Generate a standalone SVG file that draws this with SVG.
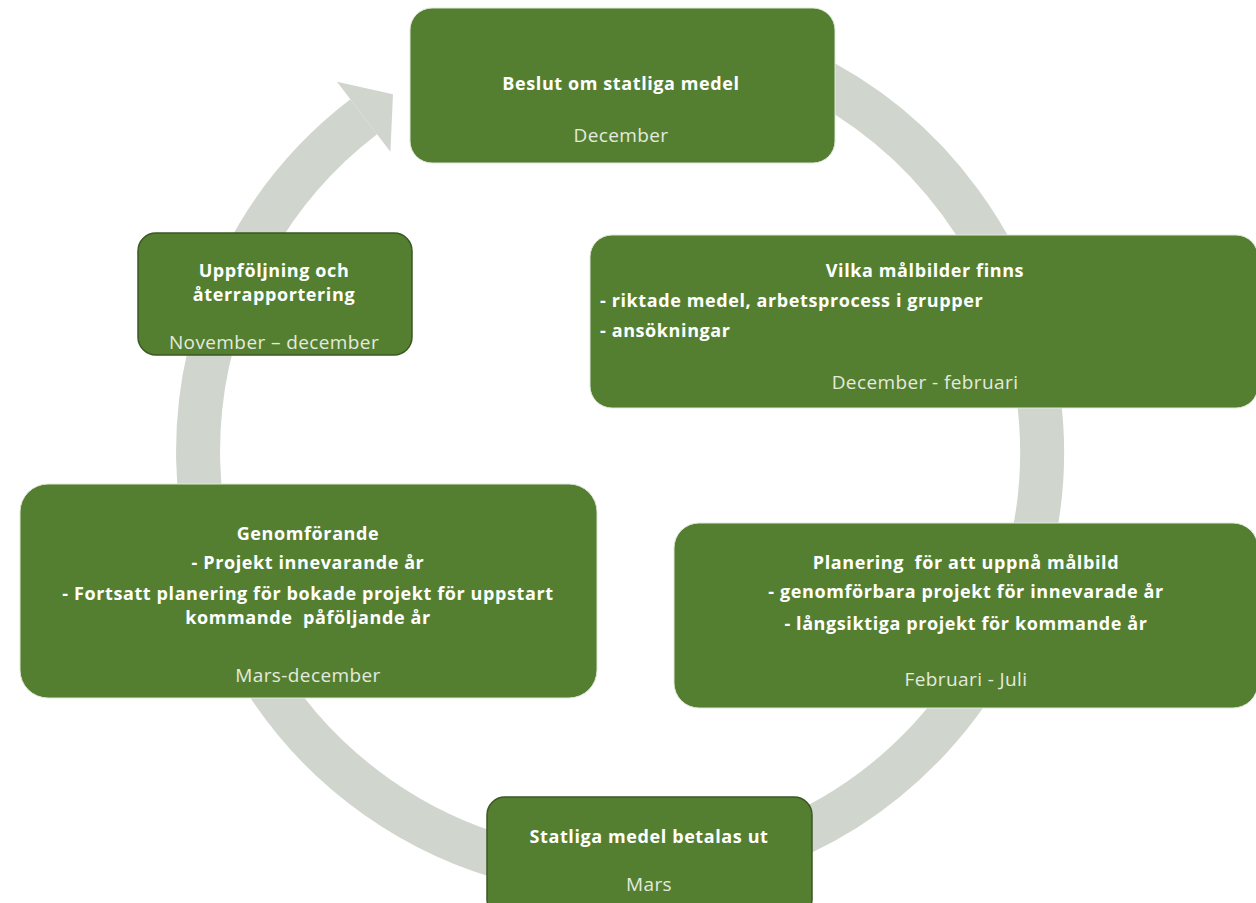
<svg xmlns="http://www.w3.org/2000/svg" width="1256" height="903" viewBox="0 0 1256 903">
<style>
.box{fill:#557f30;}
.dark{stroke:#3b5722;stroke-width:1.5;}
.lite{stroke:#dfe7da;stroke-width:1;}
.t{font-family:"Open Sans",sans-serif;font-weight:700;font-size:18px;letter-spacing:0.6px;fill:#ffffff;}
.r{font-family:"Open Sans",sans-serif;font-weight:400;font-size:19px;letter-spacing:0.4px;fill:#e4eadf;}
.c{text-anchor:middle;}
</style>
<rect width="1256" height="903" fill="#ffffff"/>
<g id="connectors">
<path d="M 620 30 A 422 422 0 1 1 363.7 116.8" fill="none" stroke="#d0d6ce" stroke-width="44"/>
<polygon points="337,81.8 393,94.3 390.4,151.8" fill="#d0d6ce"/>
</g>
<g id="n1">
<rect class="box lite" x="410" y="8" width="425" height="155" rx="22"/>
<text class="t c" x="621" y="90">Beslut om statliga medel</text>
<text class="r c" x="621" y="142">December</text>
</g>
<g id="n2">
<rect class="box lite" x="590" y="235" width="668" height="173" rx="22"/>
<text class="t c" x="925" y="277">Vilka målbilder finns</text>
<text class="t" x="600" y="307">- riktade medel, arbetsprocess i grupper</text>
<text class="t" x="600" y="337">- ansökningar</text>
<text class="r c" x="925" y="389">December - februari</text>
</g>
<g id="n3">
<rect class="box lite" x="674" y="523" width="584" height="185" rx="25"/>
<text class="t c" x="966" y="569" xml:space="preserve">Planering  för att uppnå målbild</text>
<text class="t c" x="966" y="598">- genomförbara projekt för innevarade år</text>
<text class="t c" x="966" y="630">- långsiktiga projekt för kommande år</text>
<text class="r c" x="966" y="686">Februari - Juli</text>
</g>
<g id="n4">
<rect class="box dark" x="487" y="797" width="325" height="120" rx="18"/>
<text class="t c" x="649" y="843">Statliga medel betalas ut</text>
<text class="r c" x="649" y="891">Mars</text>
</g>
<g id="n5">
<rect class="box lite" x="20" y="484" width="577" height="214" rx="28"/>
<text class="t c" x="308" y="540">Genomförande</text>
<text class="t c" x="308" y="569">- Projekt innevarande år</text>
<text class="t c" x="308" y="600">- Fortsatt planering för bokade projekt för uppstart</text>
<text class="t c" x="308" y="624" xml:space="preserve">kommande  påföljande år</text>
<text class="r c" x="308" y="682">Mars-december</text>
</g>
<g id="n6">
<rect class="box dark" x="138" y="233" width="274" height="122" rx="18"/>
<text class="t c" x="274" y="277">Uppföljning och</text>
<text class="t c" x="274" y="301">återrapportering</text>
<text class="r c" x="274" y="349">November – december</text>
</g>
</svg>
